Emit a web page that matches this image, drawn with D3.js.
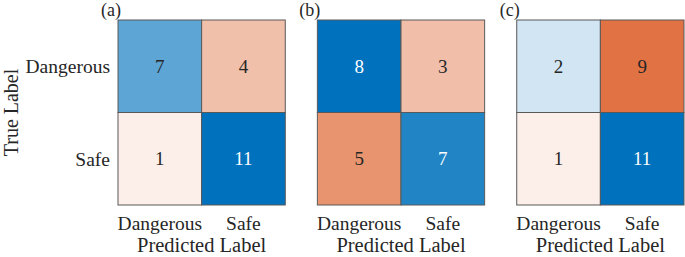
<!DOCTYPE html>
<html>
<head>
<meta charset="utf-8">
<script src="https://cdn.jsdelivr.net/npm/d3@7"></script>
<style>
  html, body { margin: 0; padding: 0; background: #fff; }
  svg { display: block; }
  text { font-family: "Liberation Serif", "Times New Roman", serif; fill: #262626; }
</style>
</head>
<body>
<svg id="chart" width="685" height="257"></svg>
<script>
// ---- data ----
const panels = ["(a)", "(b)", "(c)"];
const trueLabels = ["Dangerous", "Safe"];
const predLabels = ["Dangerous", "Safe"];
// counts[row = true][col = predicted]
const matrixA = [[7, 4], [1, 11]];
const matrixB = [[8, 3], [5, 7]];
const matrixC = [[2, 9], [1, 11]];
const matrices = [matrixA, matrixB, matrixC];

const diagColor = "#0072BD";
const offColor = "#D95319";

const svg = d3.select("#chart");

const px = d3.scaleBand().domain(panels).range([118, 684]).paddingInner(0.161);
const y = d3.scaleBand().domain(trueLabels).range([20, 205]);

panels.forEach((p, pi) => {
  const m = matrices[pi];
  const maxV = d3.max(m.flat());
  const x = d3.scaleBand().domain(predLabels).range([px(p), px(p) + px.bandwidth()]);
  const diagScale = d3.scaleLinear().domain([0, maxV]).range(["#ffffff", diagColor]).interpolate(d3.interpolateRgb);
  const offScale = d3.scaleLinear().domain([0, maxV]).range(["#ffffff", offColor]).interpolate(d3.interpolateRgb);

  const cells = [];
  trueLabels.forEach((t, r) => predLabels.forEach((pl, c) => {
    cells.push({ t, pl, v: m[r][c], diag: r === c });
  }));

  const g = svg.append("g");
  g.selectAll("rect").data(cells).join("rect")
    .attr("x", d => x(d.pl))
    .attr("y", d => y(d.t))
    .attr("width", x.bandwidth())
    .attr("height", y.bandwidth())
    .attr("fill", d => d.diag ? diagScale(d.v) : offScale(d.v))
    .attr("stroke", "#595959")
    .attr("stroke-width", 1);

  g.selectAll("text.val").data(cells).join("text")
    .attr("class", "val")
    .attr("x", d => x(d.pl) + x.bandwidth() / 2)
    .attr("y", d => y(d.t) + y.bandwidth() / 2)
    .attr("dy", "0.35em")
    .attr("text-anchor", "middle")
    .style("font-size", "19px")
    .style("fill", d => {
      const c = d3.rgb(d.diag ? diagScale(d.v) : offScale(d.v));
      const lum = (0.299 * c.r + 0.587 * c.g + 0.114 * c.b) / 255;
      return lum < 0.5 ? "#ffffff" : "#262626";
    })
    .text(d => d.v);

  // x tick labels
  g.selectAll("text.xt").data(predLabels).join("text")
    .attr("class", "xt")
    .attr("x", d => x(d) + x.bandwidth() / 2)
    .attr("y", 230)
    .attr("text-anchor", "middle")
    .style("font-size", "19.5px")
    .text(d => d);

  // x axis label
  g.append("text")
    .attr("x", px(p) + px.bandwidth() / 2)
    .attr("y", 252)
    .attr("text-anchor", "middle")
    .style("font-size", "20.5px")
    .text("Predicted Label");

  // panel title
  g.append("text")
    .attr("x", px(p) + 3)
    .attr("y", 16)
    .attr("text-anchor", "end")
    .style("font-size", "18px")
    .text(p);

  if (pi === 0) {
    g.selectAll("text.yt").data(trueLabels).join("text")
      .attr("class", "yt")
      .attr("x", px(p) - 8)
      .attr("y", d => y(d) + y.bandwidth() / 2)
      .attr("dy", "0.35em")
      .attr("text-anchor", "end")
      .style("font-size", "19.5px")
      .text(d => d);
    g.append("text")
      .attr("transform", `translate(18, ${(20 + 205) / 2}) rotate(-90)`)
      .attr("text-anchor", "middle")
      .style("font-size", "20px")
      .text("True Label");
  }
});
</script>
</body>
</html>
